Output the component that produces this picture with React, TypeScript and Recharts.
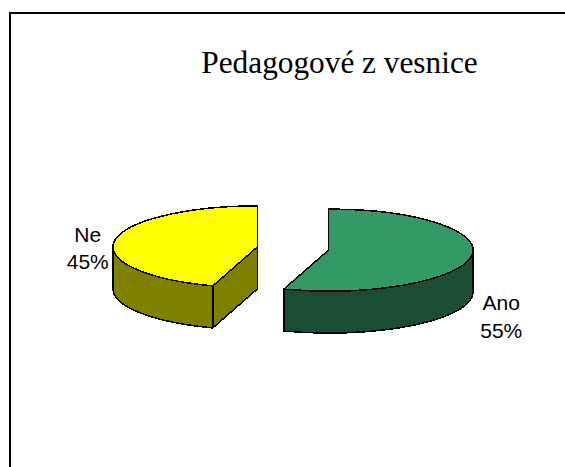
import { PieChart, Pie, Cell } from 'recharts';

const categories = ['Ano', 'Ne'];
const shares = [55, 45];
const topColors = ['#339966', '#ffff00'];
const sideColors = ['#1a4d33', '#808000'];

const chartData = categories.map((name, i) => ({ name, value: shares[i] }));

const RADIUS = 144.5;
const TILT = 41 / 144.5; // flattening of the 3d pie
const DEPTH = 42;
const EXPLODE = 36;
const RAD = Math.PI / 180;

// label baselines relative to the exploded pie rim, per category
const labelShift: Record<string, [number, number]> = {
  Ano: [30, 53.5],
  Ne: [-27, 1.5],
};

function Slice3D(props: any) {
  const { cx, cy, startAngle, endAngle, midAngle, payload } = props;
  const i = categories.indexOf(payload?.name ?? props.name);
  const rx = RADIUS;
  const ry = RADIUS * TILT;
  const ox = cx + EXPLODE * Math.cos(midAngle * RAD);
  const oy = cy - EXPLODE * TILT * Math.sin(midAngle * RAD);
  const pt = (a: number, drop = 0) =>
    `${ox + rx * Math.cos(a * RAD)} ${oy - ry * Math.sin(a * RAD) + drop}`;
  const large = startAngle - endAngle > 180 ? 1 : 0;

  const top = `M${ox} ${oy} L${pt(startAngle)} A${rx} ${ry} 0 ${large} 1 ${pt(endAngle)} Z`;

  // outer wall, only the front half of the rim shows
  const from = Math.min(startAngle, 0);
  const to = Math.max(endAngle, -180);
  const wall =
    from > to
      ? `M${pt(from)} A${rx} ${ry} 0 0 1 ${pt(to)} L${pt(to, DEPTH)} A${rx} ${ry} 0 0 0 ${pt(from, DEPTH)} Z`
      : null;

  // cut faces, drawn when they look down at the viewer
  const cuts: string[] = [];
  const cutPath = (a: number) =>
    `M${ox} ${oy} L${pt(a)} L${pt(a, DEPTH)} L${ox} ${oy + DEPTH} Z`;
  if (Math.cos(startAngle * RAD) < -0.001) cuts.push(cutPath(startAngle));
  if (Math.cos(endAngle * RAD) > 0.001) cuts.push(cutPath(endAngle));

  const edge = {
    stroke: '#000',
    strokeWidth: 1.5,
    strokeLinejoin: 'round' as const,
    shapeRendering: 'crispEdges' as const,
  };
  return (
    <g>
      {cuts.map((d) => (
        <path key={d} d={d} fill={sideColors[i]} {...edge} />
      ))}
      {wall && <path d={wall} fill={sideColors[i]} {...edge} />}
      <path d={top} fill={topColors[i]} {...edge} />
    </g>
  );
}

function SliceLabel(props: any) {
  const { cx, cy, midAngle, name, value } = props;
  const [sx, sy] = labelShift[name];
  const x = cx + (RADIUS + EXPLODE) * Math.cos(midAngle * RAD) + sx;
  const y = cy - (RADIUS + EXPLODE) * TILT * Math.sin(midAngle * RAD) + sy;
  return (
    <text x={x} y={y} textAnchor="middle" fontFamily="Liberation Sans" fontSize={21} fill="#000">
      <tspan x={x} dy={0}>{name}</tspan>
      <tspan x={x} dy={27.5}>{`${value}%`}</tspan>
    </text>
  );
}

export default function App() {
  return (
    <div style={{ position: 'absolute', left: 0, top: 0, width: 565, height: 467, background: '#fff', overflow: 'hidden' }}>
      <div style={{ position: 'absolute', left: 9, top: 12, right: -4, bottom: -4, borderLeft: '2px solid #000', borderTop: '2px solid #000' }} />
      <PieChart width={565} height={467} margin={{ top: 0, right: 0, bottom: 0, left: 0 }} style={{ position: 'absolute', left: 0, top: 0 }}>
        <text x={339.5} y={73} textAnchor="middle" fontFamily="Liberation Serif" fontSize={31.3} fill="#000">
          Pedagogové z vesnice
        </text>
        <Pie
          data={chartData}
          dataKey="value"
          nameKey="name"
          cx={293}
          cy={248.5}
          outerRadius={RADIUS}
          startAngle={90}
          endAngle={-270}
          isAnimationActive={false}
          shape={(p: any) => <Slice3D {...p} />}
          label={(p: any) => <SliceLabel {...p} />}
          labelLine={false}
        >
          {chartData.map((d, i) => (
            <Cell key={d.name} fill={topColors[i]} />
          ))}
        </Pie>
      </PieChart>
    </div>
  );
}
